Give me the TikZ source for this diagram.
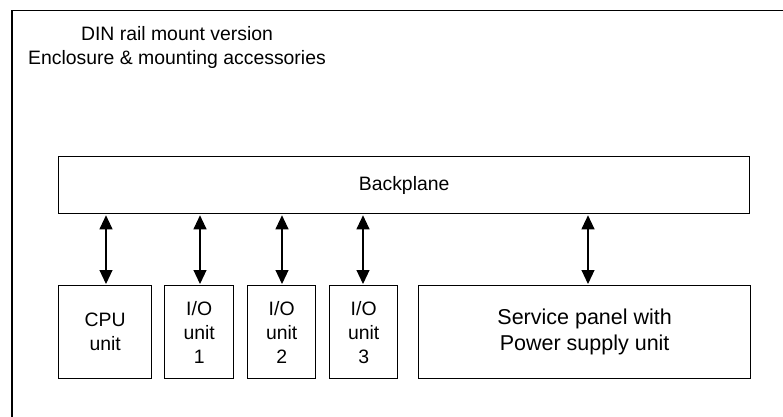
\documentclass[tikz,border=0pt]{standalone}
\usepackage{fontspec}
\setmainfont{Liberation Sans}
\usetikzlibrary{arrows.meta}
\begin{document}
\begin{tikzpicture}[x=1pt,y=-1pt,
  box/.style={draw,line width=1.3pt,inner sep=0pt,align=center},
  lbl/.style={font=\fontsize{19.4}{24}\selectfont,align=center},
  conn/.style={line width=1.1pt,{Triangle[width=13pt,length=14pt]}-{Triangle[width=13pt,length=14pt]},shorten <=1pt,shorten >=1pt}]
\useasboundingbox (0,0) rectangle (783,416);
\clip (0,0) rectangle (783,416);
\draw[line width=1.6pt] (12,10.5) rectangle (800,430);
\node[lbl,anchor=center] (title) at (177,47) {DIN rail mount version\\Enclosure \& mounting accessories};
\node[box,lbl,minimum width=691pt,minimum height=57pt,anchor=north west] (bp) at (58,156) {Backplane};
\node[box,lbl,minimum width=93pt,minimum height=93pt,anchor=north west] (cpu) at (58,285) {CPU\\unit};
\node[box,lbl,minimum width=69pt,minimum height=93pt,anchor=north west] (io1) at (164,285) {I/O\\unit\\1};
\node[box,lbl,minimum width=68pt,minimum height=93pt,anchor=north west] (io2) at (247,285) {I/O\\unit\\2};
\node[box,lbl,minimum width=68pt,minimum height=93pt,anchor=north west] (io3) at (329,285) {I/O\\unit\\3};
\node[box,font=\fontsize{21.5}{26.3}\selectfont,minimum width=332pt,minimum height=93pt,anchor=north west] (svc) at (418,285) {Service panel with\\Power supply unit};
\draw[conn] (cpu.north -| 106,0) -- (bp.south -| 106,0);
\draw[conn] (io1.north -| 200,0) -- (bp.south -| 200,0);
\draw[conn] (io2.north -| 282,0) -- (bp.south -| 282,0);
\draw[conn] (io3.north -| 363,0) -- (bp.south -| 363,0);
\draw[conn] (svc.north -| 588,0) -- (bp.south -| 588,0);
\end{tikzpicture}
\end{document}
